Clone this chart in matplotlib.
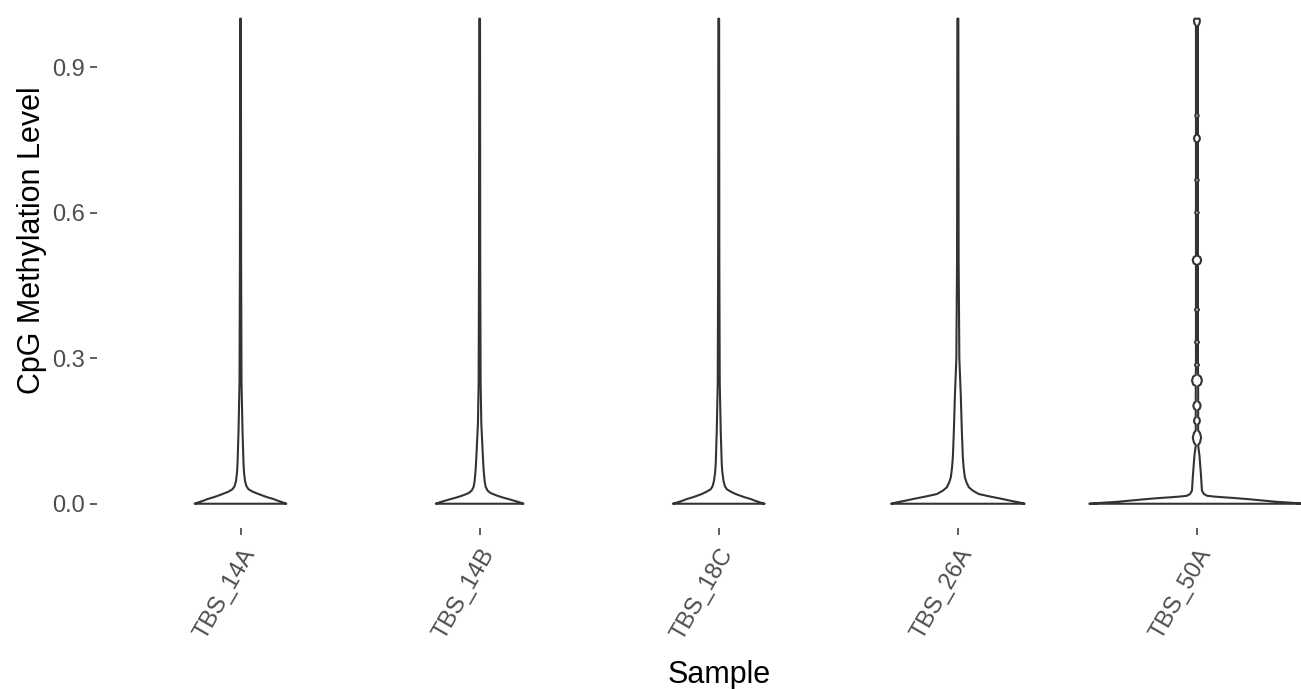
import numpy as np
import matplotlib.pyplot as plt

plt.rcParams['font.family'] = ['Liberation Sans', 'DejaVu Sans']

samples = ['TBS_14A', 'TBS_14B', 'TBS_18C', 'TBS_26A', 'TBS_50A']

# density profiles (level -> relative density)
lv_14A = [0, 0.003, 0.0065, 0.0097, 0.014, 0.02, 0.025, 0.03, 0.036, 0.047, 0.065, 0.083, 0.15, 0.25, 0.5, 1.0]
dn_14A = [46, 42, 37, 33, 26, 18, 12, 8, 6, 4.5, 3.5, 3, 2, 1, 0.6, 0.4]

lv_14B = [0, 0.003, 0.006, 0.009, 0.013, 0.017, 0.022, 0.027, 0.035, 0.047, 0.07, 0.096, 0.165, 0.25, 0.5, 1.0]
dn_14B = [44, 40, 35, 30, 23, 17, 11, 8, 6, 5, 4, 3.3, 1.7, 1, 0.6, 0.4]

lv_18C = [0, 0.003, 0.0065, 0.0097, 0.014, 0.02, 0.025, 0.03, 0.036, 0.047, 0.065, 0.083, 0.15, 0.25, 0.5, 1.0]
dn_18C = [46, 41, 36, 32, 25, 17, 12, 8, 6.2, 4.8, 3.6, 3, 2, 1, 0.6, 0.4]

lv_26A = [0, 0.003, 0.0065, 0.0097, 0.015, 0.02, 0.027, 0.034, 0.045, 0.055, 0.075, 0.096, 0.15, 0.22, 0.3, 0.5, 1.0]
dn_26A = [67, 61, 52, 45, 32, 21, 15, 11, 8.5, 7, 5.8, 5, 4, 3, 1.5, 0.8, 0.5]

lv_50A = [0, 0.002, 0.004, 0.007, 0.0097, 0.012, 0.0135, 0.015, 0.0165, 0.02, 0.027, 0.06, 0.1, 0.115,
          0.121, 0.126, 0.136, 0.146, 0.151,
          0.164, 0.166, 0.171, 0.176, 0.178,
          0.1935, 0.196, 0.202, 0.208, 0.2105,
          0.2425, 0.246, 0.254, 0.262, 0.2655,
          0.282, 0.286, 0.290,
          0.329, 0.333, 0.337,
          0.396, 0.4, 0.404,
          0.493, 0.4955, 0.502, 0.5085, 0.511,
          0.596, 0.6, 0.604,
          0.663, 0.667, 0.671,
          0.746, 0.748, 0.753, 0.758, 0.760,
          0.796, 0.8, 0.804,
          0.985, 0.99, 0.996, 1.0]
dn_50A = [108, 95, 80, 64, 50, 36, 25, 16, 10, 7, 5, 4, 2.5, 1.5,
          1.2, 3, 4.2, 3, 1.2,
          1.2, 2.3, 3, 2.3, 1.2,
          1.2, 2.8, 3.7, 2.8, 1.2,
          1.2, 3.8, 5, 3.8, 1.2,
          1.0, 2, 1.0,
          1.0, 2, 1.0,
          1.0, 2, 1.0,
          1.0, 3.2, 4.3, 3.2, 1.0,
          1.0, 1.8, 1.0,
          1.0, 1.8, 1.0,
          1.0, 2.3, 3, 2.3, 1.0,
          1.0, 1.8, 1.0,
          1.0, 2.5, 3, 2.5]

levels = [lv_14A, lv_14B, lv_18C, lv_26A, lv_50A]
dens = [dn_14A, dn_14B, dn_18C, dn_26A, dn_50A]

fig = plt.figure(figsize=(13.01, 6.89), dpi=100)
ax = fig.add_axes([0.0746, 0.2337, 0.9557, 0.7744])

dmax = max(max(d) for d in dens)
for i, (lv, dn) in enumerate(zip(levels, dens)):
    x = i + 1
    lv = np.array(lv)
    half = np.array(dn) / dmax * 0.45
    xs = np.concatenate([x - half, (x + half)[::-1]])
    ys = np.concatenate([lv, lv[::-1]])
    ax.fill(xs, ys, facecolor='white', edgecolor='#333333', linewidth=1.5,
            joinstyle='round')

ax.set_xlim(0.4, 5.6)
ax.set_ylim(-0.05, 1.05)
ax.set_xticks(range(1, 6))
ax.set_xticklabels(samples, rotation=60, ha='right', va='top', rotation_mode='anchor')
ax.set_yticks([0.0, 0.3, 0.6, 0.9])
ax.set_yticklabels(['0.0', '0.3', '0.6', '0.9'])
ax.tick_params(axis='both', length=4.8, width=1.1, color='#333333',
               labelcolor='#4D4D4D', labelsize=17, pad=4)
ax.tick_params(axis='x', pad=7)
for s in ax.spines.values():
    s.set_visible(False)

ax.set_xlabel('Sample', fontsize=22, color='black', labelpad=12)
ax.set_ylabel('CpG Methylation Level', fontsize=22, color='black')
ax.yaxis.set_label_coords(-0.0405, 0.54)

fig.savefig('out.png', dpi=100, facecolor='white')
